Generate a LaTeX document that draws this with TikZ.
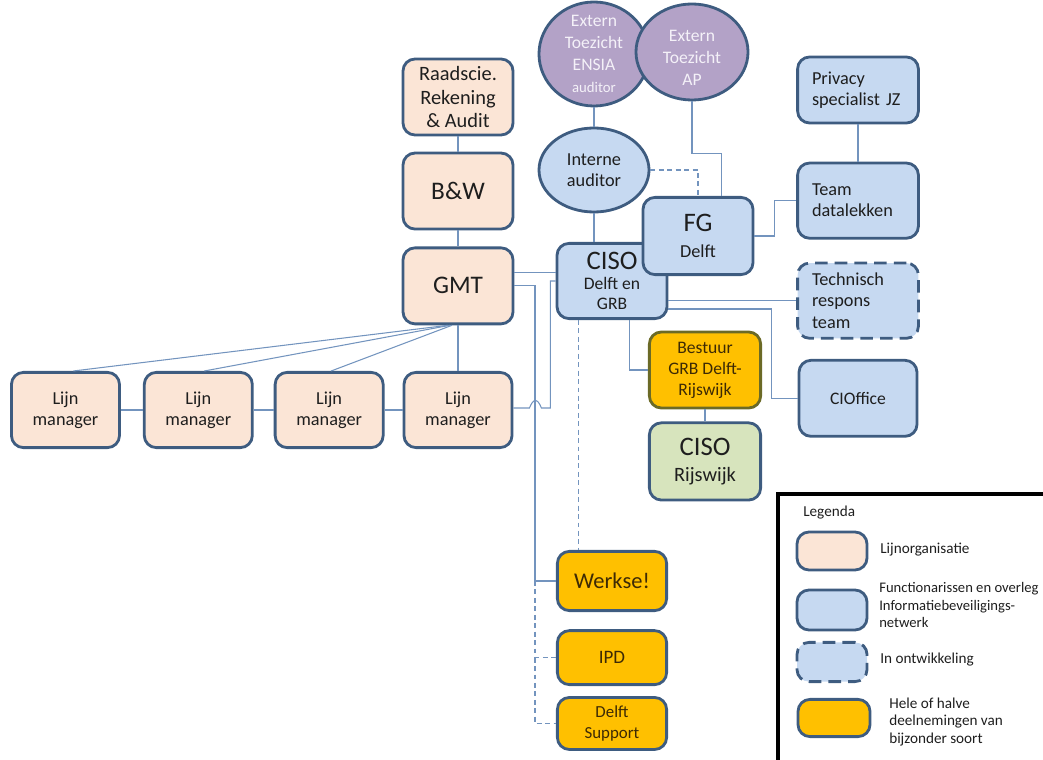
\documentclass[tikz,border=0pt]{standalone}
\usepackage{fontspec}
\setmainfont{Carlito}
\usetikzlibrary{positioning,shapes.geometric}
\definecolor{OEdge}{HTML}{3E5C80}
\definecolor{OPeach}{HTML}{FBE5D6}
\definecolor{OSky}{HTML}{C6D9F1}
\definecolor{OLilac}{HTML}{B3A2C7}
\definecolor{OGold}{HTML}{FFC000}
\definecolor{OOlive}{HTML}{6B6A26}
\definecolor{OSage}{HTML}{D7E4BD}
\definecolor{OWire}{HTML}{7394BE}
\definecolor{OInk}{HTML}{1E1E1E}
\definecolor{OBrown}{HTML}{3D2A05}
\definecolor{OPale}{HTML}{F4F1F8}

\newcommand{\fsz}[2]{\fontsize{#1}{#2}\selectfont}

\begin{document}
\begin{tikzpicture}[x=0.025cm,y=-0.025cm,
    orgbox/.style={draw=OEdge,line width=2pt,rounded corners=0.3cm,align=center,text=OInk,inner sep=1pt},
    lijnbox/.style={orgbox,fill=OPeach},
    netbox/.style={orgbox,fill=OSky},
    netleft/.style={netbox,align=left,text width=2.3cm,inner xsep=0.36cm,font=\fsz{13}{15}},
    devbox/.style={netbox,dash pattern=on 9pt off 5pt},
    partbox/.style={orgbox,fill=OGold,text=OBrown},
    toezicht/.style={ellipse,draw=OEdge,line width=2pt,fill=OLilac,inner sep=0pt},
    link/.style={OWire,line width=0.75pt},
    dashlink/.style={link,dash pattern=on 3.5pt off 2.5pt},
    legtext/.style={anchor=west,align=left,inner sep=0pt,text=OInk,font=\fsz{10.8}{12.3}}]
  \useasboundingbox (0,0) rectangle (1043,760);
  \clip (0,0) rectangle (1043,760);

  % toezicht bovenin
  \node[toezicht,minimum width=2.75cm,minimum height=2.6cm,
    label={[text=OPale,align=center,font=\fsz{12.5}{15.5}]center:{Extern\\Toezicht\\ENSIA\\{\fsz{10.5}{12}auditor}}}] (ensia) at (594,54) {};
  \node[toezicht,minimum width=2.8cm,minimum height=2.4cm,
    label={[text=OPale,align=center,font=\fsz{12.5}{15.5},yshift=-0.15cm]center:{Extern\\Toezicht\\AP}}] (ap) at (692,52) {};
  \node[toezicht,fill=OSky,minimum width=2.75cm,minimum height=2.1cm,align=center,text=OInk,font=\fsz{13}{15}] (audit) at (594,170) {Interne\\auditor};

  % lijnorganisatie
  \node[lijnbox,minimum width=2.75cm,minimum height=1.9cm,font=\fsz{14.5}{17}] (raad) at (458,97) {Raadscie.\\Rekening\\\& Audit};
  \node[lijnbox,minimum width=2.75cm,minimum height=1.9cm,font=\fsz{18}{22},below=0.38cm of raad] (bw) {B\&W};
  \node[lijnbox,minimum width=2.75cm,minimum height=1.9cm,font=\fsz{18}{22},below=0.4cm of bw] (gmt) {GMT};
  \node[lijnbox,minimum width=2.7cm,minimum height=1.88cm,font=\fsz{13}{15}] (lijn4) at (458,410) {Lijn\\manager};
  \node[lijnbox,minimum width=2.7cm,minimum height=1.88cm,font=\fsz{13}{15},left=0.45cm of lijn4] (lijn3) {Lijn\\manager};
  \node[lijnbox,minimum width=2.7cm,minimum height=1.88cm,font=\fsz{13}{15},left=0.5cm of lijn3] (lijn2) {Lijn\\manager};
  \node[lijnbox,minimum width=2.7cm,minimum height=1.88cm,font=\fsz{13}{15},left=0.55cm of lijn2] (lijn1) {Lijn\\manager};

  % informatiebeveiligingsnetwerk
  \node[netbox,minimum width=2.75cm,minimum height=1.88cm,font=\fsz{12.5}{14.5},inner sep=0pt] (ciso) at (612,281) {{\fsz{19}{21}CISO}\\Delft en\\GRB};
  \node[netbox,minimum width=2.75cm,minimum height=1.93cm,font=\fsz{13}{15}] (fg) at (698,236) {{\fsz{19}{21}FG}\\[3pt]Delft};
  \node[netleft,minimum height=1.65cm] (privacy) at (858,90) {Privacy\\specialist JZ};
  \node[netleft,minimum height=1.88cm,below=0.93cm of privacy] (team) {Team\\datalekken};
  \node[devbox,netleft,minimum height=1.88cm,below=0.55cm of team] (tech) {Technisch\\respons\\team};
  \node[netbox,minimum width=2.95cm,minimum height=1.9cm,font=\fsz{12.5}{15},below=0.48cm of tech] (cio) {CIOffice};

  % deelnemingen
  \node[partbox,draw=OOlive,minimum width=2.78cm,minimum height=1.9cm,font=\fsz{12.5}{15}] (bestuur) at (705,370) {Bestuur\\GRB Delft-\\Rijswijk};
  \node[orgbox,fill=OSage,minimum width=2.78cm,minimum height=1.93cm,font=\fsz{14.5}{17},below=0.3cm of bestuur] (cisorw) {{\fsz{19}{21}CISO}\\[1pt]Rijswijk};
  \node[partbox,minimum width=2.73cm,minimum height=1.48cm,font=\fsz{16}{19}] (werkse) at (612,581) {Werkse!};
  \node[partbox,minimum width=2.73cm,minimum height=1.35cm,font=\fsz{13.5}{16},below=0.43cm of werkse] (ipd) {IPD};
  \node[partbox,minimum width=2.73cm,minimum height=1.3cm,font=\fsz{12}{15},below=0.25cm of ipd] (support) {Delft\\Support};

  % verbindingen
  \coordinate (bus) at (535,0);
  \draw[link] (ensia) -- (audit);
  \draw[link] (audit.south) -- (audit.south |- ciso.north);
  \draw[link] (ap.south) -- ++(0,52) -| ([xshift=0.58cm]fg.north);
  \draw[dashlink] (audit.east) -| (fg.north);
  \draw[link] (fg.east) -- ++(20,0) |- (team.west);
  \draw[link] (privacy) -- (team);
  \draw[link] (tech.west) -- (tech.west -| ciso.east);
  \draw[link] ([yshift=-0.7cm]ciso.east) -- ++(103,0) |- (cio.west);
  \draw[link] ([xshift=0.43cm]ciso.south) |- (bestuur.west);
  \draw[link] (bestuur) -- (cisorw);
  \draw[dashlink] ([xshift=-0.83cm]ciso.south) -- ([xshift=-0.83cm]werkse.north);

  \draw[link] (raad) -- (bw);
  \draw[link] (bw) -- (gmt);
  \draw[link] (gmt) -- (lijn4);
  \draw[link] ([xshift=-0.25cm]gmt.south) -- ([xshift=0.2cm]lijn1.north);
  \draw[link] ([xshift=-0.2cm]gmt.south) -- ([xshift=0.15cm]lijn2.north);
  \draw[link] ([xshift=-0.15cm]gmt.south) -- ([xshift=0.05cm]lijn3.north);
  \draw[link] (lijn1) -- (lijn2);
  \draw[link] (lijn2) -- (lijn3);
  \draw[link] (lijn3) -- (lijn4);
  \draw[link] ([yshift=0.33cm]gmt.east) -- ([yshift=0.33cm]gmt.east -| ciso.west);
  \draw[link] (gmt.east) -- (gmt.east -| bus) |- (werkse.west);
  \draw[dashlink] (werkse.west -| bus) |- (ipd.west);
  \draw[dashlink] (ipd.west -| bus) |- (support.west);
  \draw[link] ([yshift=0.05cm]lijn4.east) -- ++(16,0) .. controls +(4,-10) and +(-4,-10) .. ++(12,0) -- ++(9,0) |- (ciso.west);

  % legenda
  \draw[black,line width=2.5pt] (778,494) rectangle (1080,800);
  \node[legtext] (legtitle) at (803,513) {Legenda};
  \node[lijnbox,minimum width=1.75cm,minimum height=0.95cm] (key1) at (832,551) {};
  \node[legtext] (keytxt1) at (880,550) {Lijnorganisatie};
  \node[netbox,minimum width=1.75cm,minimum height=1cm] (key2) at (832,610) {};
  \node[legtext,font=\fsz{10.4}{12.3}] (keytxt2) at (879,605) {Functionarissen en overleg\\Informatiebeveiligings-\\netwerk};
  \node[devbox,minimum width=1.75cm,minimum height=0.98cm] (key3) at (832,662) {};
  \node[legtext] (keytxt3) at (880,660) {In ontwikkeling};
  \node[partbox,minimum width=1.8cm,minimum height=0.93cm] (key4) at (834,718) {};
  \node[legtext] (keytxt4) at (889,722) {Hele of halve\\deelnemingen van\\bijzonder soort};
\end{tikzpicture}
\end{document}
